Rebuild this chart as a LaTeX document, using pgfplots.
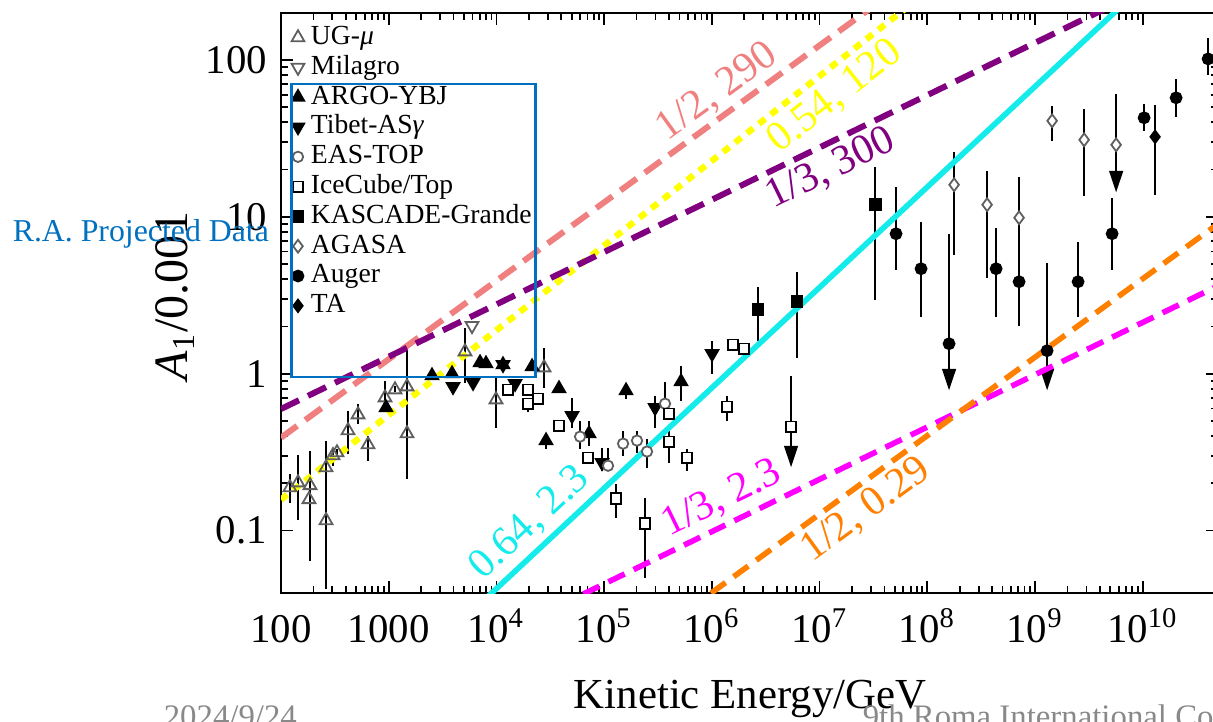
\documentclass[border=0pt]{standalone}
\usepackage{pgfplots}
\pgfplotsset{compat=1.18}
\usepackage{fontspec}
\setmainfont{Liberation Serif}

\definecolor{salmonline}{RGB}{240,128,128}
\definecolor{yellowline}{RGB}{255,255,0}
\definecolor{purpleline}{RGB}{128,0,128}
\definecolor{cyanline}{RGB}{20,235,235}
\definecolor{magentaline}{RGB}{255,0,255}
\definecolor{orangeline}{RGB}{255,128,0}
\definecolor{slideblue}{RGB}{0,112,192}
\definecolor{footgray}{RGB}{137,137,137}
\definecolor{markgray}{RGB}{95,95,95}

\pgfplotsset{
  mklegend/.style={legend image code/.code={\path[draw=none,fill=none] (-2pt,-2pt) rectangle (2pt,2pt); \draw[##1] plot coordinates {(0pt,0pt)};}},
  eb/.style={error bars/.cd, y dir=both, y explicit, error mark=none,
             error bar style={line width=0.5pt, black, solid}},
  ul/.style={forget plot, mark=none, draw=none, mark options={draw=none, fill=none},
             error bars/.cd, y dir=minus, y explicit,
             error mark=triangle*,
             error mark options={rotate=270, xscale=0.58, mark size=3pt, draw=black, fill=black, solid},
             error bar style={line width=0.5pt, draw=black, solid}},
  fitline/.style={forget plot, no markers},
}

\begin{document}
\begin{tikzpicture}
\begin{axis}[
  at={(70.25pt,-148.25pt)}, anchor=south west,
  scale only axis, width=234.25pt, height=145.1pt,
  xmode=log, ymode=log,
  xmin=100, xmax=5e10, ymin=0.04, ymax=200,
  xtick={1e2,1e3,1e4,1e5,1e6,1e7,1e8,1e9,1e10},
  xticklabels={100,1000,10\textsuperscript{4},10\textsuperscript{5},10\textsuperscript{6},10\textsuperscript{7},10\textsuperscript{8},10\textsuperscript{9},10\textsuperscript{10}},
  ytick={0.1,1,10,100}, yticklabels={0.1,1,10,100},
  tick align=inside,
  major tick length=3pt, minor tick length=1.8pt,
  every tick/.style={black, line width=0.45pt},
  axis line style={line width=0.5pt},
  tick label style={font=\fontsize{10.2}{12}\selectfont},
  xticklabel style={anchor=base, yshift=-12.25pt},
  legend style={
    at={(axis description cs:0,1)}, anchor=north west,
    xshift=2.25pt, yshift=-3.05pt,
    draw=none, fill=none, inner sep=0pt, outer sep=0pt,
    font=\fontsize{6.9}{8}\selectfont,
    row sep=1.05pt, column sep=1.25pt,
    nodes={inner sep=0pt, text height=4.9pt, text depth=1.5pt},
  },
  legend cell align=left,
]

% UG-mu
\addplot[only marks, mklegend, mark=triangle, mark size=1.85pt,
  mark options={draw=markgray, fill=white, line width=0.45pt, solid}, eb]
  table[x=E, y=A, y error plus expr=\thisrow{hi}-\thisrow{A}, y error minus expr=\thisrow{A}-\thisrow{lo}] {
E A lo hi
121 0.188 0.149 0.231
144 0.202 0.116 0.301
186 0.194 0.0644 0.323
182 0.158 0.158 0.158
262 0.252 0.252 0.374
262 0.116 0.0427 0.252
304 0.301 0.259 0.333
331 0.314 0.300 0.330
419 0.434 0.309 0.581
519 0.548 0.481 0.644
643 0.353 0.279 0.403
924 0.703 0.607 0.902
1144 0.791 0.760 0.830
1479 0.826 0.800 1.401
1479 0.415 0.214 0.800
5108 1.381 0.877 1.963
9910 0.683 0.453 0.943
27670 1.092 0.814 1.464
};
\addlegendentry{UG-\textit{μ}}

% Milagro
\addplot[only marks, mklegend, mark=triangle, mark size=1.85pt,
  mark options={rotate=180, draw=markgray, fill=white, line width=0.45pt, solid}]
  coordinates {(5933,2.022)};
\addlegendentry{Milagro}

% ARGO-YBJ
\addplot[only marks, mklegend, mark=triangle*, mark size=1.85pt,
  mark options={draw=black, fill=black, solid}, eb]
  table[x=E, y=A, y error plus expr=\thisrow{hi}-\thisrow{A}, y error minus expr=\thisrow{A}-\thisrow{lo}] {
E A lo hi
944 0.607 0.607 0.607
2523 0.971 0.971 0.971
3871 1.000 1.000 1.000
7046 1.175 1.175 1.175
8000 1.158 1.158 1.158
11510 1.141 1.141 1.141
21420 1.108 1.108 1.108
38120 0.803 0.803 0.803
28880 0.3745 0.333 0.417
72400 0.415 0.348 0.502
159700 0.779 0.693 0.839
517600 0.889 0.673 1.124
};
\addlegendentry{ARGO-YBJ}

% Tibet-ASgamma
\addplot[only marks, mklegend, mark=triangle*, mark size=1.85pt,
  mark options={rotate=180, draw=black, fill=black, solid}, eb]
  table[x=E, y=A, y error plus expr=\thisrow{hi}-\thisrow{A}, y error minus expr=\thisrow{A}-\thisrow{lo}] {
E A lo hi
3955 0.826 0.826 0.826
6067 0.877 0.877 0.877
11510 1.141 1.141 1.141
14890 0.864 0.864 0.864
50350 0.540 0.453 0.703
95640 0.271 0.240 0.338
297100 0.607 0.453 0.724
1005000 1.341 1.000 1.622
};
\addlegendentry{Tibet-AS\textit{γ}}

% EAS-TOP
\addplot[only marks, mklegend, mark=*, mark size=1.3pt,
  mark options={draw=markgray, fill=white, line width=0.45pt, solid}, eb]
  table[x=E, y=A, y error plus expr=\thisrow{hi}-\thisrow{A}, y error minus expr=\thisrow{A}-\thisrow{lo}] {
E A lo hi
59750 0.397 0.333 0.502
108700 0.259 0.241 0.338
149900 0.358 0.300 0.434
201900 0.3745 0.314 0.434
250100 0.319 0.252 0.386
367500 0.644 0.600 0.880
};
\addlegendentry{EAS-TOP}

% IceCube/Top
\addplot[only marks, mklegend, mark=square*, mark size=1.3pt,
  mark options={draw=black, fill=white, line width=0.45pt, solid}, eb]
  table[x=E, y=A, y error plus expr=\thisrow{hi}-\thisrow{A}, y error minus expr=\thisrow{A}-\thisrow{lo}] {
E A lo hi
12820 0.791 0.791 0.791
19650 0.791 0.791 0.791
19650 0.644 0.567 0.644
24330 0.693 0.693 0.693
38120 0.466 0.466 0.466
70830 0.2917 0.2917 0.2917
129100 0.160 0.121 0.1993
239900 0.1109 0.0502 0.162
400500 0.556 0.556 0.556
400500 0.369 0.271 0.434
588500 0.2917 0.241 0.333
1384000 0.616 0.502 0.724
1574000 1.530 1.530 1.530
1991000 1.443 1.443 1.443
5435000 0.4597 0.4597 0.971
};
\addlegendentry{IceCube/Top}

% KASCADE-Grande
\addplot[only marks, mklegend, mark=square*, mark size=1.4pt,
  mark options={draw=black, fill=black, solid}, eb]
  table[x=E, y=A, y error plus expr=\thisrow{hi}-\thisrow{A}, y error minus expr=\thisrow{A}-\thisrow{lo}] {
E A lo hi
2685000 2.557 1.623 3.581
6180000 2.875 1.264 4.463
32770000 11.93 2.960 20.82
};
\addlegendentry{KASCADE-Grande}

% AGASA
\addplot[only marks, mklegend, mark=diamond*, mark size=1.6pt,
  mark options={draw=markgray, fill=white, line width=0.45pt, solid}, eb]
  table[x=E, y=A, y error plus expr=\thisrow{hi}-\thisrow{A}, y error minus expr=\thisrow{A}-\thisrow{lo}] {
E A lo hi
1.774e8 15.99 5.728 25.94
3.592e8 11.93 4.088 19.63
7.118e8 9.855 5.245 17.98
1.442e9 40.88 30.48 50.96
2.858e9 30.93 13.61 48.74
5.665e9 28.75 28.75 60.7
};
\addlegendentry{AGASA}

% Auger
\addplot[only marks, mklegend, mark=*, mark size=1.4pt,
  mark options={draw=black, fill=black, solid}, eb]
  table[x=E, y=A, y error plus expr=\thisrow{hi}-\thisrow{A}, y error minus expr=\thisrow{A}-\thisrow{lo}] {
E A lo hi
5.129e7 7.795 4.597 15.53
8.753e7 4.665 2.307 9.296
1.593e8 1.552 1.552 7.795
4.355e8 4.665 2.307 8.511
7.118e8 3.855 2.022 6.254
1.295e9 1.401 1.401 5.09
2.512e9 3.855 2.307 6.93
5.2e9 7.795 4.597 13.21
1.03e10 42.73 35.3 52.47
2.042e10 57.3 43.35 75.7
4.047e10 101.4 80 138
};
\addlegendentry{Auger}

% TA
\addplot[only marks, mklegend, mark=diamond*, mark size=1.6pt,
  mark options={draw=black, fill=black, solid}, eb]
  table[x=E, y=A, y error plus expr=\thisrow{hi}-\thisrow{A}, y error minus expr=\thisrow{A}-\thisrow{lo}] {
E A lo hi
1.303e10 32.33 13.8 51.68
};
\addlegendentry{TA}

% upper limits (downward arrows)
\addplot[ul] table[x=E, y=A, y error minus expr=\thisrow{A}-\thisrow{lo}] {
E A lo
5435000 0.4597 0.3006
5.665e9 28.75 16.96
1.593e8 1.552 0.929
1.295e9 1.401 0.929
};

% power-law curves
\addplot[fitline, salmonline, line width=1.5pt, dash pattern=on 5pt off 2.5pt]
  coordinates {(100,0.391) (5e10,8740)};
\addplot[fitline, yellowline, line width=1.6pt, dash pattern=on 2pt off 1.8pt]
  coordinates {(100,0.1574) (5e10,7834)};
\addplot[fitline, purpleline, line width=1.5pt, dash pattern=on 5pt off 2.5pt]
  coordinates {(100,0.5957) (5e10,472.9)};
\addplot[fitline, cyanline, line width=1.4pt]
  coordinates {(100,0.002239) (5e10,826)};
\addplot[fitline, magentaline, line width=1.4pt, dash pattern=on 4.5pt off 2.5pt]
  coordinates {(100,0.004571) (5e10,3.628)};
\addplot[fitline, orangeline, line width=1.4pt, dash pattern=on 4.5pt off 2.5pt]
  coordinates {(100,4.027e-4) (5e10,9.005)};
\end{axis}

\begin{scope}[x=0.25pt, y=-0.25pt]
  % curve labels
  \begin{scope}[font=\fontsize{10.5}{12}\selectfont]
    \node[rotate=36, text=salmonline] at (717,92) {1/2, 290};
    \node[rotate=38, text=yellowline] at (835,97) {0.54, 120};
    \node[rotate=26, text=purpleline] at (831,169) {1/3, 300};
    \node[rotate=43, text=cyanline] at (530,523) {0.64, 2.3};
    \node[rotate=26, text=magentaline] at (722,499) {1/3, 2.3};
    \node[rotate=36, text=orangeline] at (866,510) {1/2, 0.29};
  \end{scope}
  % axis titles
  \node[anchor=base, inner sep=0pt, font=\fontsize{10.7}{13}\selectfont] at (750,708) {Kinetic Energy/GeV};
  \node[rotate=90, anchor=base west, inner sep=0pt, font=\fontsize{12}{14}\selectfont] at (187,381) {\textit{A}\textsubscript{1}/0.001};
  % slide annotations
  \draw[slideblue, line width=0.7pt] (291.5,84) rectangle (535.5,377);
  \node[anchor=base west, inner sep=0pt, text=slideblue, font=\fontsize{7.95}{9}\selectfont] at (12,241) {R.A. Projected Data};
  \node[anchor=base west, inner sep=0pt, text=footgray, font=\fontsize{8.2}{10}\selectfont] at (163,727) {2024/9/24};
  \node[anchor=base west, inner sep=0pt, text=footgray, font=\fontsize{8.2}{10}\selectfont] at (862,727) {9th Roma International Conference};
\end{scope}

\pgfresetboundingbox
\path[use as bounding box] (0pt,0pt) rectangle (303.25pt,-180.25pt);
\end{tikzpicture}
\end{document}
